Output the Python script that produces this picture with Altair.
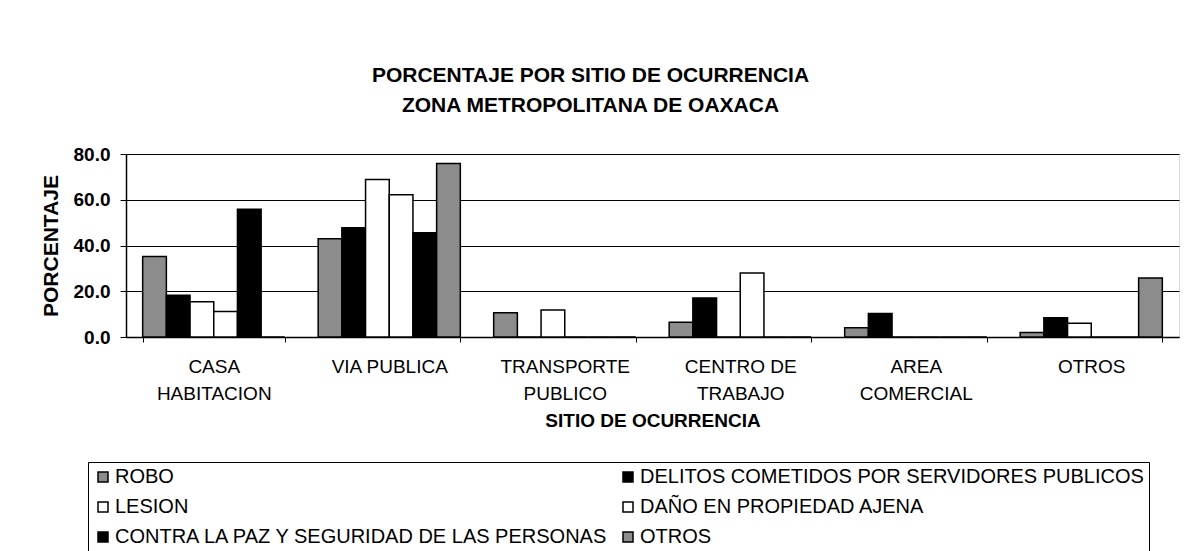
import altair as alt
import pandas as pd

categories = ["CASA HABITACION", "VIA PUBLICA", "TRANSPORTE PUBLICO",
              "CENTRO DE TRABAJO", "AREA COMERCIAL", "OTROS"]
series = ["ROBO",
          "DELITOS COMETIDOS POR SERVIDORES PUBLICOS",
          "LESION",
          "DAÑO EN PROPIEDAD AJENA",
          "CONTRA LA PAZ Y SEGURIDAD DE LAS PERSONAS",
          "OTROS"]
robo = [35.2, 43.0, 10.6, 6.5, 4.0, 2.0]
delitos = [18.2, 47.8, 0.0, 17.1, 10.3, 8.4]
lesion = [15.4, 68.8, 11.8, 0.0, 0.0, 6.0]
dano = [11.2, 62.2, 0.0, 28.0, 0.0, 0.0]
contra = [55.8, 45.6, 0.0, 0.0, 0.0, 0.0]
otros = [0.0, 75.8, 0.0, 0.0, 0.0, 25.8]
fills = {"ROBO": "#8c8c8c",
         "DELITOS COMETIDOS POR SERVIDORES PUBLICOS": "#000000",
         "LESION": "#ffffff",
         "DAÑO EN PROPIEDAD AJENA": "#ffffff",
         "CONTRA LA PAZ Y SEGURIDAD DE LAS PERSONAS": "#000000",
         "OTROS": "#8c8c8c"}
# legend is laid out column by column: this order gives the reference's rows
legend_order = ["ROBO", "LESION", "CONTRA LA PAZ Y SEGURIDAD DE LAS PERSONAS",
                "DELITOS COMETIDOS POR SERVIDORES PUBLICOS",
                "DAÑO EN PROPIEDAD AJENA", "OTROS"]
y_ticks = [0, 20, 40, 60, 80]

rows = []
for s, vals in zip(series, [robo, delitos, lesion, dano, contra, otros]):
    for c, v in zip(categories, vals):
        rows.append({"sitio": c, "delito": s, "pct": v})
df = pd.DataFrame(rows)

FONT = "Liberation Sans"

label_expr = ("datum.label == 'VIA PUBLICA' || datum.label == 'OTROS' ? datum.label : "
              "datum.label == 'CENTRO DE TRABAJO' ? ['CENTRO DE', 'TRABAJO'] : "
              "split(datum.label, ' ')")

chart = alt.Chart(df).mark_bar(stroke="black", strokeWidth=1.5).encode(
    x=alt.X("sitio:N", sort=categories,
            scale=alt.Scale(paddingInner=0.19, paddingOuter=0.095),
            axis=alt.Axis(title="SITIO DE OCURRENCIA", labelAngle=0,
                          labelExpr=label_expr, labelLineHeight=27,
                          labelFont=FONT, labelFontSize=19, labelColor="black",
                          labelPadding=15, tickBand="extent", tickSize=5,
                          tickColor="black", domainColor="black", domainWidth=1.5,
                          titleFont=FONT, titleFontSize=19, titleFontWeight="bold",
                          titleColor="black", titlePadding=8, grid=False)),
    xOffset=alt.XOffset("delito:N", sort=series,
                        scale=alt.Scale(paddingInner=0, paddingOuter=0)),
    y=alt.Y("pct:Q", scale=alt.Scale(domain=[0, 80], nice=False),
            axis=alt.Axis(title="PORCENTAJE", values=y_ticks, format=".1f",
                          labelFont=FONT, labelFontSize=19, labelFontWeight="bold",
                          labelColor="black", labelPadding=10, tickSize=6,
                          tickColor="black", domainColor="black", domainWidth=1.5,
                          gridColor="black", gridWidth=1.2, gridOpacity=1,
                          titleFont=FONT, titleFontSize=21, titleFontWeight="bold",
                          titleColor="black", titlePadding=12)),
    color=alt.Color("delito:N",
                    scale=alt.Scale(domain=legend_order,
                                    range=[fills[s] for s in legend_order]),
                    legend=alt.Legend(title=None, orient="none", legendX=-38, legendY=308,
                                      columns=2, columnPadding=8, rowPadding=10,
                                      symbolType="square", symbolSize=100,
                                      symbolStrokeColor="black", symbolStrokeWidth=1.5,
                                      symbolOpacity=1,
                                      labelFont=FONT, labelFontSize=20, labelColor="black",
                                      labelLimit=0, labelOffset=2,
                                      strokeColor="black", padding=5)),
).properties(
    width=1053, height=183,
    autosize=alt.AutoSizeParams(type="none"),
    padding={"left": 118, "top": 146, "right": 5, "bottom": 214},
    title=alt.Title(["PORCENTAJE POR SITIO DE OCURRENCIA", "ZONA METROPOLITANA DE OAXACA"],
                    font=FONT, fontSize=21, fontWeight="bold", color="black",
                    lineHeight=30, anchor="middle", frame="group", dx=-62, offset=29),
).configure_view(stroke="black", strokeWidth=1.5, fill="white").configure(
    background="white")

chart.save("out.html", embed_options={"renderer": "svg", "actions": False})
